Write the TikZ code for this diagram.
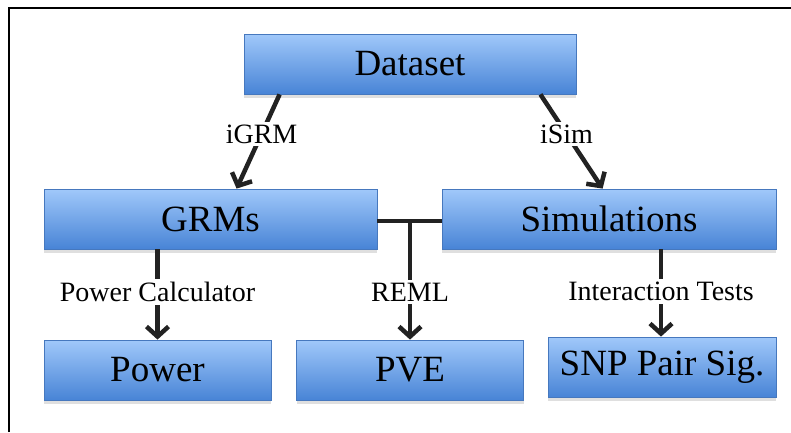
\documentclass[tikz,border=0pt]{standalone}
\usepackage{fontspec}
\setmainfont{Liberation Serif}
\usetikzlibrary{arrows.meta,shadows}
\definecolor{boxtop}{RGB}{160,200,250}
\definecolor{boxbot}{RGB}{72,132,214}
\definecolor{boxline}{RGB}{70,120,190}
\definecolor{conn}{RGB}{34,34,34}
\tikzset{
  bluebox/.style={draw=boxline, line width=0.8pt, top color=boxtop, bottom color=boxbot,
    minimum height=60pt, inner sep=0pt, font=\fontsize{37}{37}\selectfont,
    drop shadow={shadow xshift=0pt, shadow yshift=-4pt, opacity=0.25}},
  conline/.style={draw=conn, line width=4.5pt},
  conarrow/.style={conline, -{Straight Barb[length=10pt,width=22pt,line width=4.5pt]}},
  lbl/.style={fill=white, inner sep=3pt, font=\fontsize{28}{28}\selectfont},
}
\begin{document}
\begin{tikzpicture}[x=1pt,y=-1pt]
\useasboundingbox (0,0) rectangle (791,432);
\draw[line width=2pt] (9,432) -- (9,8) -- (791,8);
\node[bluebox, minimum width=332pt] (dataset) at (410,64) {Dataset};
\node[bluebox, minimum width=333pt] (grms) at (210.5,219) {GRMs};
\node[bluebox, minimum width=334pt] (sim) at (609,219) {Simulations};
\node[bluebox, minimum width=227pt] (power) at (157.5,370) {Power};
\node[bluebox, minimum width=227pt] (pve) at (410,370) {PVE};
\node[bluebox, minimum width=228pt] (snp) at (662,367) {SNP Pair Sig.};
\coordinate (tj) at (410,221);
\draw[conarrow] ([xshift=36pt]dataset.south west) -- node[lbl, pos=0.42] {iGRM} ([xshift=193pt]grms.north west);
\draw[conarrow] ([xshift=-36pt]dataset.south east) -- node[lbl, pos=0.42] {iSim} ([xshift=161pt]sim.north west);
\draw[conline] (grms.east |- tj) -- (sim.west |- tj);
\draw[conarrow] (tj) -- node[lbl, pos=0.6] {REML} (pve.north);
\draw[conarrow] (grms.south -| power.north) -- node[lbl, pos=0.47] {Power Calculator} (power.north);
\draw[conarrow] ([xshift=-1pt]sim.south -| snp.north) -- node[lbl, pos=0.48] {Interaction Tests} ([xshift=-1pt]snp.north);
\end{tikzpicture}
\end{document}
